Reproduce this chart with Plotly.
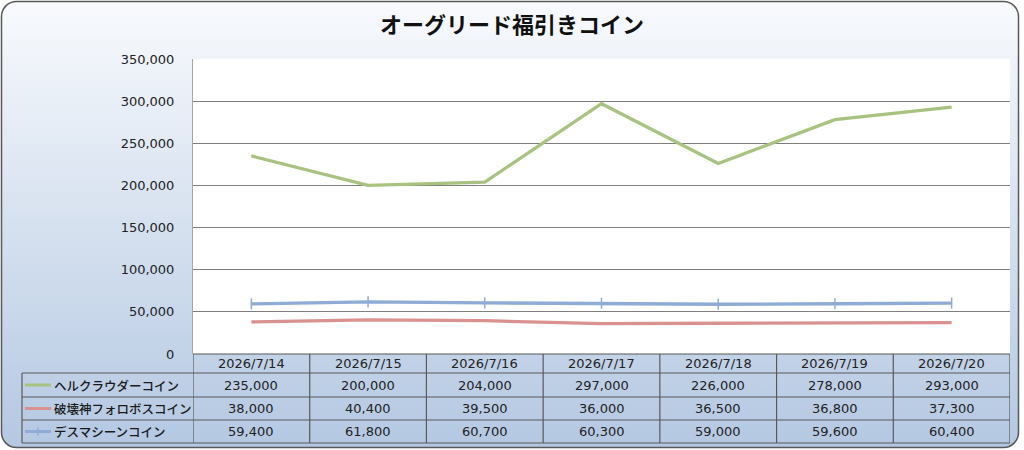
import base64
import plotly.graph_objects as go

# ---- data ----
categories = ["2026/7/14", "2026/7/15", "2026/7/16", "2026/7/17", "2026/7/18", "2026/7/19", "2026/7/20"]
series_names = ["ヘルクラウダーコイン", "破壊神フォロボスコイン", "デスマシーンコイン"]
herc_values = [235000, 200000, 204000, 297000, 226000, 278000, 293000]
foro_values = [38000, 40400, 39500, 36000, 36500, 36800, 37300]
death_values = [59400, 61800, 60700, 60300, 59000, 59600, 60400]
title_text = "オーグリード福引きコイン"

# ---- style ----
W, H = 1024, 450
colors = ["#a7c37f", "#d9928f", "#8fabd6"]
FONT = "DejaVu Sans, Noto Sans CJK JP, sans-serif"
TXT = "#222222"
GRID = "#7f7f7f"
TBL = "#595959"

def px(x):
    return x / W

def py(y):
    return 1 - y / H

plot_l, plot_r, plot_t, plot_b = 193, 1010, 59, 354
row_edges = [354, 373, 397, 420, 443]
table_left = 22

svg = f'''<svg xmlns="http://www.w3.org/2000/svg" width="{W}" height="{H}" viewBox="0 0 {W} {H}">
<defs><linearGradient id="g" x1="0" y1="0" x2="0" y2="1">
<stop offset="0" stop-color="#f8fafd"/><stop offset="1" stop-color="#b4c8e2"/>
</linearGradient></defs>
<rect x="1.5" y="1.5" width="1017" height="446" rx="15" ry="15" fill="url(#g)" stroke="#595959" stroke-width="1.5"/>
</svg>'''
svg_uri = "data:image/svg+xml;base64," + base64.b64encode(svg.encode()).decode()

fig = go.Figure()
all_values = [herc_values, foro_values, death_values]
for i, (name, vals) in enumerate(zip(series_names, all_values)):
    marker = dict(size=1, opacity=0)
    mode = "lines"
    if i == 2:
        mode = "lines+markers"
        marker = dict(symbol="line-ns", size=8, line=dict(width=1.5, color=colors[i]), color=colors[i])
    fig.add_trace(go.Scatter(x=categories, y=vals, name=name, mode=mode,
                             line=dict(color=colors[i], width=3.3), marker=marker,
                             showlegend=False, cliponaxis=False))

shapes = []
annotations = []
# white plot area
shapes.append(dict(type="rect", xref="paper", yref="paper", x0=px(plot_l), x1=px(plot_r),
                   y0=py(plot_b), y1=py(plot_t), fillcolor="white", line=dict(width=0), layer="below"))

# table horizontal lines
for k, ye in enumerate(row_edges):
    x0 = px(plot_l) if k == 0 else px(table_left)
    shapes.append(dict(type="line", xref="paper", yref="paper", x0=x0, x1=px(plot_r),
                       y0=py(ye), y1=py(ye), line=dict(color=TBL, width=1.2)))
# table vertical lines
shapes.append(dict(type="line", xref="paper", yref="paper", x0=px(table_left), x1=px(table_left),
                   y0=py(row_edges[1]), y1=py(row_edges[-1]), line=dict(color=TBL, width=1.2)))
for j in range(len(categories) + 1):
    xb = j - 0.5
    shapes.append(dict(type="line", xref="x", yref="paper", x0=xb, x1=xb,
                       y0=py(row_edges[0]), y1=py(row_edges[-1]), line=dict(color=TBL, width=1.2)))

cell_font = dict(family=FONT, size=13, color=TXT)
# header
hy = (row_edges[0] + row_edges[1]) / 2
for j, c in enumerate(categories):
    annotations.append(dict(x=j, y=py(hy), xref="x", yref="paper", text=c, showarrow=False,
                            font=cell_font, xanchor="center", yanchor="middle"))
# rows
for r, (name, vals) in enumerate(zip(series_names, all_values)):
    cy = (row_edges[r + 1] + row_edges[r + 2]) / 2
    for j, v in enumerate(vals):
        annotations.append(dict(x=j, y=py(cy), xref="x", yref="paper", text=f"{v:,}", showarrow=False,
                                font=cell_font, xanchor="center", yanchor="middle"))
    annotations.append(dict(x=px(52), y=py(cy), xref="paper", yref="paper", text=name, showarrow=False,
                            font=dict(family="Noto Sans CJK JP, sans-serif", size=12.5, color="#1a1a1a",
                                      weight=500),
                            xanchor="left", yanchor="middle"))
    shapes.append(dict(type="line", xref="paper", yref="paper", x0=px(25), x1=px(51),
                       y0=py(cy), y1=py(cy), line=dict(color=colors[r], width=3)))
    if r == 2:
        shapes.append(dict(type="line", xref="paper", yref="paper", x0=px(38), x1=px(38),
                           y0=py(cy - 4), y1=py(cy + 4), line=dict(color=colors[r], width=1.5)))

annotations.append(dict(x=0.5, y=py(23), xref="paper", yref="paper", text=f"<b>{title_text}</b>",
                        showarrow=False, font=dict(family="Noto Sans CJK JP, sans-serif", size=22, color="#111111"),
                        xanchor="center", yanchor="middle"))

fig.update_layout(
    width=W, height=H,
    margin=dict(l=0, r=0, t=0, b=0, pad=0),
    paper_bgcolor="white", plot_bgcolor="rgba(0,0,0,0)",
    images=[dict(source=svg_uri, xref="paper", yref="paper", x=0, y=1, sizex=1, sizey=1,
                 sizing="stretch", layer="below", xanchor="left", yanchor="top")],
    shapes=shapes, annotations=annotations,
    xaxis=dict(domain=[px(plot_l), px(plot_r)], type="category", range=[-0.5, 6.5],
               showgrid=False, showticklabels=False, ticks="", zeroline=False, showline=False,
               fixedrange=True),
    yaxis=dict(domain=[py(plot_b), py(plot_t)], range=[0, 350000], dtick=50000, tickformat=",",
               showgrid=True, gridcolor=GRID, gridwidth=1, zeroline=False,
               showline=True, linecolor="#a6a6a6", linewidth=1, ticks="",
               tickfont=dict(family=FONT, size=13, color=TXT), ticklabelstandoff=15,
               automargin=False, fixedrange=True),
    showlegend=False,
)

fig.write_html("out.html", config={"displayModeBar": False},
               post_script="document.body.style.margin='0';document.body.style.overflow='hidden';")
